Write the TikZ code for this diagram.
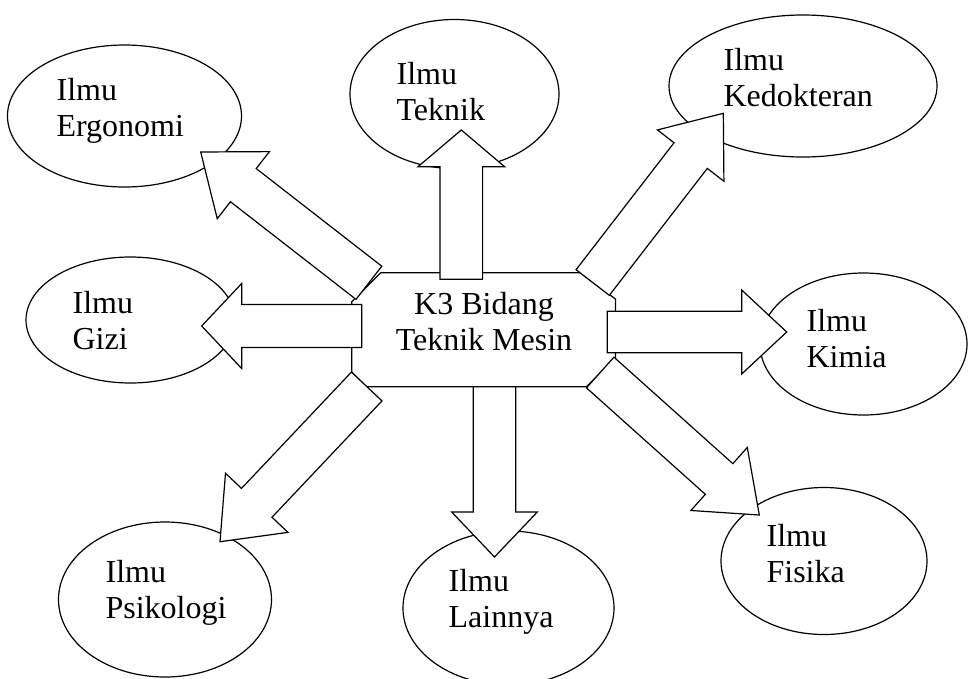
\documentclass[tikz,border=0pt]{standalone}
\usepackage{fontspec}
\setmainfont{Liberation Serif}
\usetikzlibrary{calc,shapes.geometric}
\newcommand\blkarrow[5]{% #1 tail, #2 tip, #3 half shaft, #4 half head, #5 head length
  \coordinate (bacut) at ($(#2)!#5!(#1)$);
  \draw[blockarrow] ($(#1)!#3!90:(#2)$) -- ($(bacut)!#3!90:(#2)$) -- ($(bacut)!#4!90:(#2)$) -- (#2)
    -- ($(bacut)!#4!-90:(#2)$) -- ($(bacut)!#3!-90:(#2)$) -- ($(#1)!#3!-90:(#2)$) -- cycle;}
\begin{document}
\begin{tikzpicture}[x=1pt,y=-1pt,line width=1.2pt,
  bubble/.style={draw, ellipse, inner sep=0pt, fill=white},
  lbl/.style={align=left, anchor=base west, inner sep=0pt, font=\fontsize{32}{36}\selectfont},
  blockarrow/.style={draw, fill=white, line join=miter}]
\clip (0,0) rectangle (969,678);
\fill[white] (0,0) rectangle (969,678);
% ellipses
\node[bubble, minimum width=234pt, minimum height=142pt] (ergo) at (124.5,116) {};
\node[bubble, minimum width=209pt, minimum height=149pt] (tek) at (454.5,94) {};
\node[bubble, minimum width=268pt, minimum height=142pt] (dok) at (803,86) {};
\node[bubble, minimum width=209pt, minimum height=126pt] (gizi) at (130.5,320) {};
\node[bubble, minimum width=207pt, minimum height=142pt] (kim) at (863.5,344) {};
\node[bubble, minimum width=213pt, minimum height=155pt] (psi) at (165,599.5) {};
\node[bubble, minimum width=211pt, minimum height=154pt] (lain) at (508.5,608) {};
\node[bubble, minimum width=206pt, minimum height=147pt] (fis) at (824,561) {};
% central octagon
\draw[fill=white] (380.7,272.7) -- (580,272.7) -- (615.5,299) -- (615.5,357.7)
  -- (586.5,386.7) -- (366,386.7) -- (351.7,372) -- (351.7,301.7) -- cycle;
\node[align=center, anchor=base, inner sep=0pt, font=\fontsize{32}{36}\selectfont] (k3) at (484,350) {K3 Bidang\\Teknik Mesin};
% arrow ends
\coordinate (tErgo) at (368.9,282.8);  \coordinate (hErgo) at (200.7,152);
\coordinate (tTek) at (461.3,279.3);   \coordinate (hTek) at (461.3,130);
\coordinate (tDok) at (592.7,282.5);   \coordinate (hDok) at (723.3,113.3);
\coordinate (tGizi) at (361.7,326);    \coordinate (hGizi) at (201.7,326);
\coordinate (tKim) at (607.3,332);     \coordinate (hKim) at (786.7,332);
\coordinate (tPsi) at (366.7,386.5);   \coordinate (hPsi) at (220,541.7);
\coordinate (tLain) at (494.5,386.7);  \coordinate (hLain) at (494.5,557);
\coordinate (tFis) at (600.2,372.5);   \coordinate (hFis) at (759.3,515);
\blkarrow{tErgo}{hErgo}{21pt}{42.5pt}{54pt}
\blkarrow{tTek}{hTek}{21.3pt}{43.3pt}{36.7pt}
\blkarrow{tDok}{hDok}{21pt}{42pt}{53.4pt}
\blkarrow{tGizi}{hGizi}{21.5pt}{42.5pt}{40pt}
\blkarrow{tKim}{hKim}{20.8pt}{42pt}{45pt}
\blkarrow{tPsi}{hPsi}{21pt}{43pt}{53.5pt}
\blkarrow{tLain}{hLain}{21.2pt}{42.8pt}{45pt}
\blkarrow{tFis}{hFis}{20.6pt}{42.3pt}{54pt}
% labels (anchor at baseline of the second line)
\node[lbl] (ergoL) at (56,136) {Ilmu\\Ergonomi};
\node[lbl] (tekL) at (396,120) {Ilmu\\Teknik};
\node[lbl] (dokL) at (723,106) {Ilmu\\Kedokteran};
\node[lbl] (giziL) at (72,349) {Ilmu\\Gizi};
\node[lbl] (kimL) at (806,367) {Ilmu\\Kimia};
\node[lbl] (psiL) at (105,618) {Ilmu\\Psikologi};
\node[lbl] (lainL) at (448,627) {Ilmu\\Lainnya};
\node[lbl] (fisL) at (766,582) {Ilmu\\Fisika};
\end{tikzpicture}
\end{document}
